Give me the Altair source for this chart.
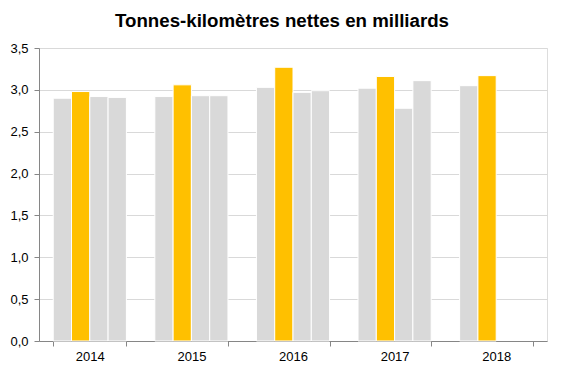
import altair as alt
import pandas as pd

years = ["2014", "2015", "2016", "2017", "2018"]
quarters = ["T1", "T2", "T3", "T4"]
values = {
    "2014": [2.90, 2.98, 2.92, 2.91],
    "2015": [2.92, 3.06, 2.93, 2.93],
    "2016": [3.03, 3.27, 2.97, 2.99],
    "2017": [3.02, 3.16, 2.78, 3.11],
    "2018": [3.05, 3.17],
}
bar_colors = ["#D9D9D9", "#FFC000", "#D9D9D9", "#D9D9D9"]
title_text = ["Tonnes-kilomètres nettes en milliards"]

rows = []
for y in years:
    for q, v in zip(quarters, values[y]):
        rows.append({"annee": y, "trimestre": q, "valeur": v})
df = pd.DataFrame(rows)

font = "Liberation Sans"

bars = alt.Chart(df).mark_bar(stroke="white", strokeWidth=1).encode(
    x=alt.X("annee:N", sort=years, title=None,
            scale=alt.Scale(paddingInner=0.28, paddingOuter=0.14),
            axis=alt.Axis(labelAngle=0, tickBand="extent", ticks=True, tickSize=5,
                          tickColor="#868686", domainColor="#868686",
                          labelPadding=4, labelFont=font, labelFontSize=13,
                          labelColor="#000000", grid=False)),
    xOffset=alt.XOffset("trimestre:N", sort=quarters,
                        scale=alt.Scale(domain=quarters, paddingInner=0, paddingOuter=0)),
    y=alt.Y("valeur:Q", title=None,
            scale=alt.Scale(domain=[0, 3.5], nice=False),
            axis=alt.Axis(values=[0, 0.5, 1, 1.5, 2, 2.5, 3, 3.5],
                          labelExpr="replace(format(datum.value, '.1f'), '.', ',')",
                          tickSize=5, tickColor="#868686", domainColor="#868686",
                          gridColor="#D9D9D9", gridWidth=1, labelPadding=6,
                          labelFont=font, labelFontSize=13, labelColor="#000000")),
    color=alt.Color("trimestre:N", sort=quarters,
                    scale=alt.Scale(domain=quarters, range=bar_colors), legend=None),
)

title = alt.Chart(pd.DataFrame({"titre": title_text})).mark_text(
    font=font, fontSize=18.7, fontWeight="bold", color="#000000",
    align="center", baseline="alphabetic",
).encode(text="titre:N", x=alt.value(243), y=alt.value(-21))

chart = alt.layer(title, bars).properties(
    width=508,
    height=293,
    autosize=alt.AutoSizeParams(type="none"),
    padding={"left": 31, "top": 40, "right": 7, "bottom": 24},
).configure_view(stroke=None).configure(background="white")

chart.save("out.html", embed_options={"renderer": "svg", "actions": False})
